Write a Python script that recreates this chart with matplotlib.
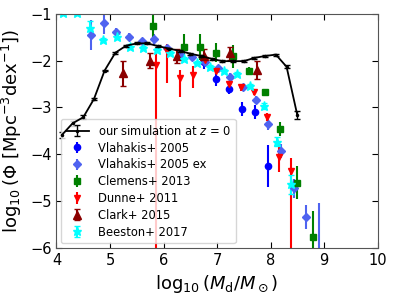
import numpy as np
import matplotlib
matplotlib.use("Agg")
import matplotlib.pyplot as plt

# simulation at z = 0
sim_x = [4.1, 4.3, 4.5, 4.7, 4.9, 5.1, 5.3, 5.5, 5.7, 5.9, 6.1, 6.3, 6.5, 6.7,
         6.9, 7.1, 7.3, 7.5, 7.7, 7.9, 8.1, 8.3, 8.5]
sim_y = [-3.59, -3.34, -3.21, -2.82, -2.21, -1.83, -1.68, -1.63, -1.63, -1.69,
         -1.74, -1.79, -1.85, -1.90, -1.96, -2.01, -2.01, -2.01, -1.94, -1.90,
         -1.87, -2.13, -3.16]
sim_err = [0.06, 0.05, 0.04, 0.03, 0.02, 0.02, 0.02, 0.02, 0.02, 0.02, 0.02, 0.02,
           0.02, 0.02, 0.02, 0.02, 0.02, 0.02, 0.02, 0.02, 0.02, 0.03, 0.08]

# Vlahakis+ 2005
vl_x = [6.75, 6.99, 7.23, 7.47, 7.71, 7.95]
vl_y = [-2.02, -2.40, -2.60, -3.03, -3.09, -4.25]
vl_err = [0.15, 0.15, 0.12, 0.15, 0.15, 0.45]

# Vlahakis+ 2005 ex
vx_x = [4.64, 4.88, 5.11, 5.35, 5.59, 5.83, 6.06, 6.30, 6.54, 6.77, 7.01, 7.25,
        7.48, 7.72, 7.96, 8.19, 8.43, 8.67, 8.91]
vx_y = [-1.45, -1.20, -1.39, -1.49, -1.58, -1.54, -1.72, -1.86, -1.93, -2.02,
        -2.16, -2.35, -2.57, -2.84, -3.36, -3.93, -4.73, -5.34, -6.5]
vx_err = [0.32, 0.22, 0.08, 0.08, 0.06, 0.12, 0.06, 0.06, 0.06, 0.06, 0.06, 0.08,
          0.08, 0.08, 0.12, 0.15, 0.2, 0.25, 1.45]

# Clemens+ 2013
cl_x = [5.80, 6.39, 6.69, 6.99, 7.29, 7.59, 7.90, 8.18, 8.49, 8.79]
cl_y = [-1.26, -1.70, -1.70, -1.83, -1.91, -2.21, -2.68, -3.46, -4.61, -5.77]
cl_err = [0.25, 0.28, 0.28, 0.2, 0.25, 0.08, 0.08, 0.15, 0.35, 0.56]

# Dunne+ 2011
du_x = [5.86, 6.07, 6.31, 6.55, 6.77, 6.99, 7.23, 7.45, 7.69, 7.93, 8.16, 8.38]
du_y = [-2.09, -1.79, -2.38, -2.30, -1.98, -2.21, -2.50, -2.56, -2.66, -3.20,
        -4.05, -4.35]
du_lo = [4.2, 0.68, 0.39, 0.28, 0.1, 0.08, 0.08, 0.08, 0.08, 0.1, 0.33, 2.0]
du_hi = [0.39, 0.15, 0.18, 0.18, 0.08, 0.06, 0.06, 0.06, 0.06, 0.08, 0.33, 0.27]

# Clark+ 2015
ck_x = [5.25, 5.75, 6.25, 6.75, 7.25, 7.75]
ck_y = [-2.27, -2.00, -1.90, -1.89, -1.84, -2.20]
ck_err = [0.27, 0.16, 0.14, 0.15, 0.14, 0.2]

# Beeston+ 2017
be_x = [4.125, 4.375, 4.625, 4.875, 5.125, 5.375, 5.625, 5.875, 6.125, 6.375,
        6.625, 6.875, 7.125, 7.375, 7.625, 7.875, 8.125, 8.375]
be_y = [-0.97, -0.97, -1.31, -1.56, -1.49, -1.70, -1.73, -1.77, -1.83, -1.97,
        -2.04, -2.13, -2.22, -2.28, -2.54, -2.97, -3.73, -4.64]
be_err = [0.06, 0.06, 0.15, 0.05, 0.05, 0.05, 0.04, 0.04, 0.04, 0.04, 0.04, 0.04,
          0.04, 0.04, 0.05, 0.06, 0.1, 0.2]

fig = plt.figure(figsize=(3.94, 2.96), dpi=100)
ax = fig.add_axes([0.1434, 0.163, 0.8148, 0.79])

ax.errorbar(sim_x, sim_y, yerr=sim_err, color="black", marker=".", ms=3,
            lw=1.3, capsize=2, elinewidth=1, label="our simulation at $z$ = 0", zorder=5)
ax.errorbar(vl_x, vl_y, yerr=vl_err, color="blue", fmt="o", ms=4.5, elinewidth=1.5,
            label="Vlahakis+ 2005")
ax.errorbar(vx_x, vx_y, yerr=vx_err, color="#4f63f0", fmt="D", ms=4.5, elinewidth=1.5,
            label="Vlahakis+ 2005 ex")
ax.errorbar(cl_x, cl_y, yerr=cl_err, color="green", fmt="s", ms=4.5, elinewidth=1.5,
            label="Clemens+ 2013")
ax.errorbar(du_x, du_y, yerr=[du_lo, du_hi], color="red", fmt="v", ms=5, elinewidth=1.5,
            label="Dunne+ 2011")
ax.errorbar(ck_x, ck_y, yerr=ck_err, color="darkred", fmt="^", ms=5.5, elinewidth=1.5,
            capsize=2, label="Clark+ 2015")
ax.errorbar(be_x, be_y, yerr=be_err, color="cyan", fmt="*", ms=6.5, elinewidth=1.5,
            capsize=2, label="Beeston+ 2017")

ax.set_xlim(4, 10)
ax.set_ylim(-6, -1)
ax.set_xticks(range(4, 11))
ax.set_yticks(range(-6, 0))
ax.tick_params(direction="in", top=True, right=True, labelsize=10.5, length=4)
for s in ax.spines.values():
    s.set_color("#555555")
ax.set_xlabel(r"$\log_{10}(M_\mathrm{d}/M_\odot)$", fontsize=13)
ax.set_ylabel(r"$\log_{10}(\Phi\ [\mathrm{Mpc^{-3}dex^{-1}}])$", fontsize=13)
ax.legend(loc="lower left", fontsize=8.3, framealpha=0.8, borderaxespad=0.4,
          handlelength=2.0, labelspacing=0.33)

fig.savefig("out.png", dpi=100)
